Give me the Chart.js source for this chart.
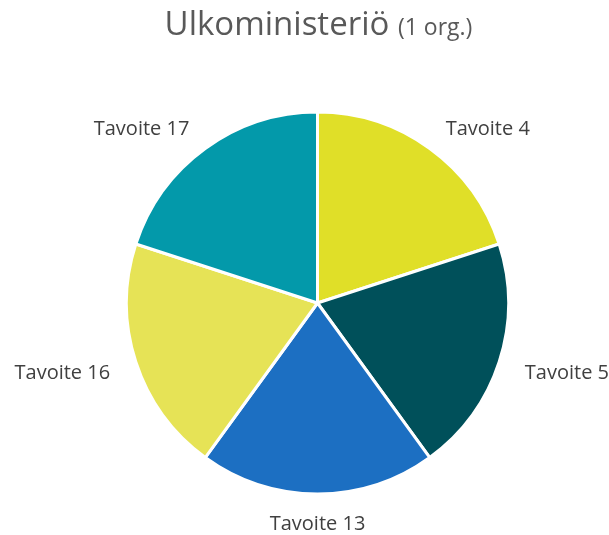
<!DOCTYPE html>
<html>
<head>
<meta charset="utf-8">
<script src="https://cdn.jsdelivr.net/npm/chart.js@4"></script>
<style>
  body { margin: 0; background: #fff; }
  #wrap { position: relative; width: 609px; height: 535px; }
  #title {
    position: absolute; top: 0px; left: 0; width: 609px; text-align: center;
    font-family: "Open Sans", sans-serif; color: #595959; font-size: 33px;
    margin-left: 14px;
  }
  #title span { font-size: 23px; }
</style>
</head>
<body>
<div id="wrap">
  <canvas id="myChart" width="609" height="535"></canvas>
  <div id="title">Ulkoministeriö <span>(1 org.)</span></div>
</div>
<script>
const labels = ['Tavoite 4', 'Tavoite 5', 'Tavoite 13', 'Tavoite 16', 'Tavoite 17'];
const values = [1, 1, 1, 1, 1];
const colors = ['#E0DF28', '#00505A', '#1C6FC2', '#E6E356', '#0399AA'];

// labels outside the slices, like the original
const outsideLabels = {
  id: 'outsideLabels',
  afterDatasetsDraw(chart) {
    const ctx = chart.ctx;
    const meta = chart.getDatasetMeta(0);
    ctx.save();
    ctx.font = '20px "Open Sans", sans-serif';
    ctx.fillStyle = '#404040';
    ctx.textBaseline = 'middle';
    meta.data.forEach((arc, i) => {
      const mid = (arc.startAngle + arc.endAngle) / 2;
      const r = arc.outerRadius + 27;
      const x = arc.x + Math.cos(mid) * r;
      const y = arc.y + Math.sin(mid) * r + 3;
      const c = Math.cos(mid);
      ctx.textAlign = c > 0.1 ? 'left' : (c < -0.1 ? 'right' : 'center');
      ctx.fillText(chart.data.labels[i], x, y);
    });
    ctx.restore();
  }
};

const ctx = document.getElementById('myChart').getContext('2d');
new Chart(ctx, {
  type: 'pie',
  data: {
    labels: labels,
    datasets: [{
      data: values,
      backgroundColor: colors,
      borderColor: '#ffffff',
      borderWidth: 3
    }]
  },
  options: {
    responsive: false,
    animation: false,
    layout: { padding: { left: 125, right: 99, top: 110, bottom: 39 } },
    plugins: {
      legend: { display: false },
      tooltip: { enabled: false }
    }
  },
  plugins: [outsideLabels]
});
</script>
</body>
</html>
